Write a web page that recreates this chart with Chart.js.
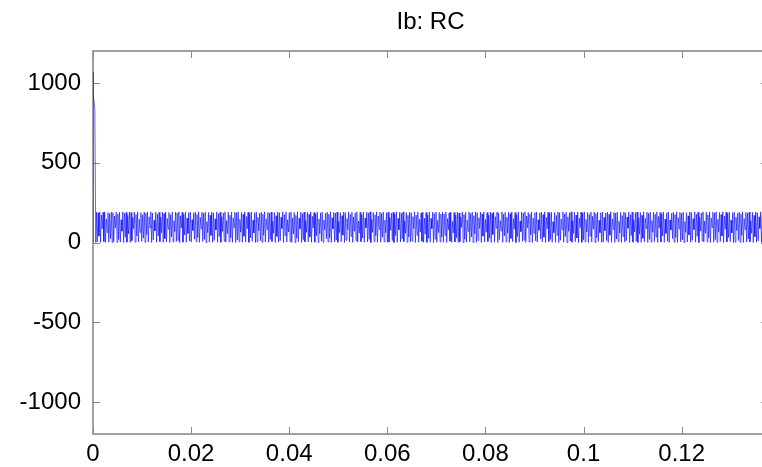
<!DOCTYPE html>
<html><head><meta charset="utf-8">
<script src="https://cdn.jsdelivr.net/npm/chart.js@4/dist/chart.umd.min.js"></script>
<style>html,body{margin:0;padding:0;overflow:hidden;background:#fff}#wrap{width:770px;height:467px}</style>
</head><body><div id="wrap"><canvas id="c" width="770" height="467" aria-label="Ib: RC"></canvas></div>
<script>
const titleText = 'Ib: RC';
const xTickValues = [0, 0.02, 0.04, 0.06, 0.08, 0.1, 0.12];
const yTickValues = [-1000, -500, 0, 500, 1000];
const xRange = [0, 0.1376];
const yRange = [-1200, 1200];
const startupTime = [0, 0.00002, 0.00006, 0.00037, 0.00057];
const startupCurrent = [0, 1070, 925, 838, 0];
const rippleStart = 0.0007;
const rippleStep = 0.000168;
const rippleCurrent = [
190,3,186,40,191,0,172,85,189,5,192,1,148,62,188,2,181,25,190,0,
187,6,165,92,191,1,179,18,190,3,142,71,192,0,183,33,189,2,170,54,
191,0,188,11,157,87,190,2,176,41,192,4,146,64,187,7,173,27,191,1,
184,48,190,3,161,91,192,0,185,17,139,73,191,2,178,40,189,5,159,61,
190,1,182,24,192,4,150,84,188,0,174,35,191,3,136,67,190,6,185,14,
192,0,167,90,189,2,177,47,191,1,153,57,187,9,190,3,143,75,186,21,
190,5,176,32,192,1,157,85,189,7,184,19,191,0,131,61,188,3,171,44,
191,1,186,13,148,79,192,2,180,37,190,1,162,69,185,8,192,3,137,56,
189,4,171,29,191,1,154,92,190,0,186,16,192,5,145,65,188,1,177,39,
192,3,163,85,190,1,182,29,191,7,140,60,187,0,190,4,158,73,184,11,
190,1,178,45,192,3,149,81,189,1,185,20,191,6,134,58,188,0,168,38,
191,2,187,12,159,88,192,1,175,42,190,3,142,66,187,6,191,1,154,53,
188,0,170,27,192,5,152,86,190,1,181,18,191,3,138,63,189,4,177,35,
192,1,164,90,188,2,179,42,191,0,147,55,186,9,190,1,140,79,183,23,
190,3,177,30,192,1,155,86,189,3,184,15,191,1,132,62,187,4,168,46,
191,0,187,14,150,80,192,3,176,38,190,1,160,70,185,11,192,2,135,59,
189,5,174,28,191,1,153,93,190,3,185,19,192,0,146,64,188,5,174,42,
192,1,166,82,190,2,181,33,191,4,141,61,187,1,190,3,157,76,184,12,
190,0,179,43,192,1,151,80,189,3,184,23,191,5,135,57,188,1,171,35,
191,3,186,9,162,87,192,0,172,45,190,2,145,67,186,7,191,1,152,52,
188,1,173,26,192,2,151,87,190,0,182,21,191,1,139,62,189,3,178,34,
190,2,178,45,192,0,150,80,186,8,191,1,132,60,188,3,172,30,190,0,
185,5,160,95,191,0,176,20,189,2,140,70,192,4,182,35,190,0,168,55,
191,1,187,12,155,88,190,0,179,40,192,3,145,65,188,6,171,28,191,0,
183,50,190,2,162,90,191,0,186,18,138,72,192,1,177,42,189,4,158,60,
190,0,181,25,192,5,149,83,188,0,173,36,191,2,135,68,190,7,184,15,
192,1,166,92,189,3,178,48,191,0,152,58,187,10,190,2,142,76,186,22,
190,4,175,33,192,0,158,86,189,6,183,20,191,1,130,62,188,2,170,45,
191,0,187,14,147,80,192,3,179,38,190,0,161,70,186,9,192,2,136,57,
189,5,172,28,191,0,153,93,190,1,185,17,192,4,144,66,188,0,176,40,
192,2,164,84,190,0,181,30,191,6,139,61,187,1,190,3,157,74,185,12,
190,0,177,46,192,2,148,82,189,0,184,21,191,5,133,59,188,1,169,37,
191,3,186,11,160,89,192,0,174,43,190,2,143,67,187,7,191,0,155,52,
188,1,171,26,192,4,151,87,190,0,182,19,191,2,137,64,189,5,178,34,
192,0,163,91,188,3,180,41,191,1,146,56,186,8,190,0,141,78,184,24,
190,2,176,31,192,0,156,85,189,4,183,16,191,0,131,63,187,3,167,47,
191,1,188,13,149,81,192,2,177,39,190,0,159,71,185,10,192,3,134,58,
189,4,173,29,191,0,154,94,190,2,186,18,192,1,145,65,188,6,175,41,
192,0,165,83,190,3,182,32,191,5,140,60,187,0,190,2,158,75,184,13,
190,1,178,44,192,0,150,81,189,2,185,22,191,4,136,58,188,0,170,36,
191,2,187,10,161,88,192,1,173,44,190,3,144,68,186,6,191,0,153,51,
188,0,172,27,192,3,152,86,190,1,181,20,191,0,138,63,189,4,179,33
];

const points = startupTime.map((t, i) => ({x: t, y: startupCurrent[i]}))
  .concat(rippleCurrent.map((v, i) => ({x: rippleStart + i * rippleStep, y: v})));

const FONT = 'Liberation Sans, Arial, sans-serif';
const AXIS_COLOR = '#8a8a8a';
const TICK_LEN = 7;

const framePlugin = {
  id: 'frame',
  beforeDatasetsDraw(chart) {
    const {ctx, chartArea: a, scales} = chart;
    ctx.save();
    ctx.strokeStyle = AXIS_COLOR;
    ctx.lineWidth = 1;
    ctx.beginPath();
    scales.x.ticks.forEach(t => {
      const px = Math.round(scales.x.getPixelForValue(t.value)) + 0.5;
      ctx.moveTo(px, a.bottom); ctx.lineTo(px, a.bottom - TICK_LEN);
      ctx.moveTo(px, a.top); ctx.lineTo(px, a.top + TICK_LEN);
    });
    scales.y.ticks.forEach(t => {
      const py = Math.round(scales.y.getPixelForValue(t.value)) + 0.5;
      ctx.moveTo(a.left, py); ctx.lineTo(a.left + TICK_LEN, py);
      ctx.moveTo(a.right, py); ctx.lineTo(a.right - TICK_LEN, py);
    });
    ctx.stroke();
    ctx.lineWidth = 1.6;
    ctx.strokeRect(a.left, a.top, a.right - a.left, a.bottom - a.top);
    ctx.restore();
  },
  afterDraw(chart) {
    const {ctx, chartArea: a} = chart;
    ctx.save();
    ctx.fillStyle = '#000';
    ctx.font = '24px ' + FONT;
    ctx.textAlign = 'center';
    ctx.textBaseline = 'middle';
    ctx.fillText(titleText, (a.left + a.right) / 2, 22);
    ctx.restore();
  }
};

new Chart(document.getElementById('c'), {
  type: 'line',
  data: {
    datasets: [{
      label: titleText,
      data: points,
      borderColor: '#0000ff',
      borderWidth: 0.6,
      pointRadius: 0,
      tension: 0,
      fill: false
    }]
  },
  options: {
    responsive: false,
    animation: false,
    devicePixelRatio: 1,
    layout: {padding: {left: 0, right: 2, top: 51, bottom: 0}},
    plugins: {
      legend: {display: false},
      tooltip: {enabled: false},
      title: {display: false}
    },
    scales: {
      x: {
        type: 'linear',
        min: xRange[0], max: xRange[1],
        grid: {display: false, drawTicks: false},
        border: {display: false},
        afterBuildTicks: s => { s.ticks = xTickValues.map(v => ({value: v})); },
        afterFit: s => { s.height = 33; },
        ticks: {
          color: '#000',
          padding: 6,
          maxRotation: 0,
          autoSkip: false,
          font: {family: FONT, size: 24},
          callback: v => String(Number(v.toFixed(2)))
        }
      },
      y: {
        type: 'linear',
        min: yRange[0], max: yRange[1],
        grid: {display: false, drawTicks: false},
        border: {display: false},
        afterBuildTicks: s => { s.ticks = yTickValues.map(v => ({value: v})); },
        afterFit: s => { s.width = 93; },
        ticks: {
          color: '#000',
          padding: 12,
          font: {family: FONT, size: 24},
          callback: v => String(v)
        }
      }
    }
  },
  plugins: [framePlugin]
});
</script>
</body></html>
